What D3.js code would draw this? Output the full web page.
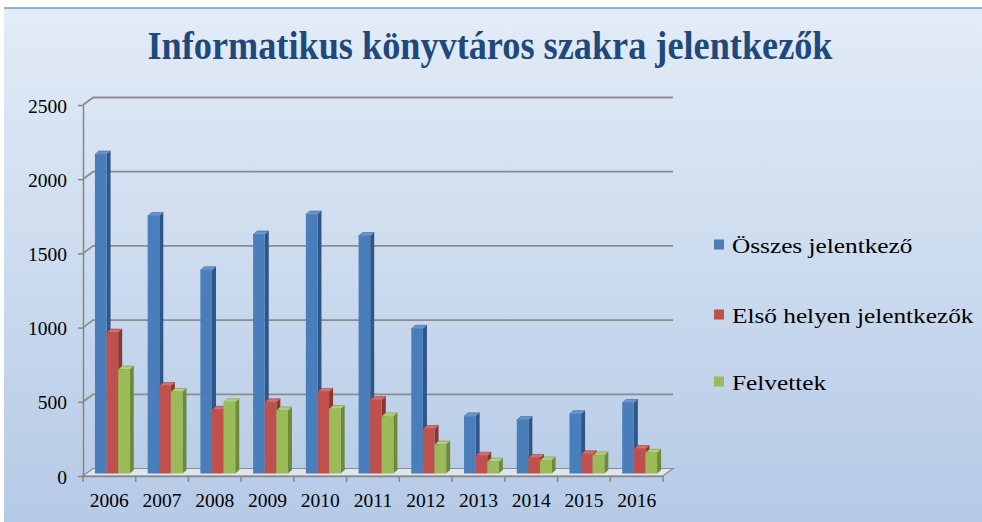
<!DOCTYPE html>
<html>
<head>
<meta charset="utf-8">
<script src="https://cdn.jsdelivr.net/npm/d3@7"></script>
<style>
  body { margin: 0; background: #fff; }
</style>
</head>
<body>
<svg id="chart" width="982" height="522"></svg>
<script>
// chart data
var years = ["2006", "2007", "2008", "2009", "2010", "2011", "2012", "2013", "2014", "2015", "2016"];
var osszes = [2150, 1735, 1370, 1610, 1745, 1600, 975, 385, 360, 400, 475];
var elso = [950, 590, 430, 480, 550, 495, 300, 120, 105, 130, 165];
var felvettek = [700, 550, 480, 425, 435, 385, 195, 80, 88, 122, 140];
var seriesNames = ["Összes jelentkező", "Első helyen jelentkezők", "Felvettek"];
var yTicks = [0, 500, 1000, 1500, 2000, 2500];
var titleText = "Informatikus könyvtáros szakra jelentkezők";

var serif = "'Liberation Serif', 'Times New Roman', serif";
var svg = d3.select("#chart");

// colours: front, side, top
var colors = [
  {front: "#4a7ebb", side: "#2e5688", top: "#6a96cf"},
  {front: "#c0504d", side: "#8e3532", top: "#d46e6b"},
  {front: "#9bbb59", side: "#6e8a39", top: "#b3cf77"}
];

// background gradient
var defs = svg.append("defs");
var bg = defs.append("linearGradient").attr("id", "bg").attr("x1", 0).attr("y1", 0).attr("x2", 0).attr("y2", 1);
bg.append("stop").attr("offset", "0%").attr("stop-color", "#e3ecf7");
bg.append("stop").attr("offset", "100%").attr("stop-color", "#b5cae6");

svg.append("rect").attr("x", 4).attr("y", 8).attr("width", 978).attr("height", 514).attr("fill", "url(#bg)");
svg.append("line").attr("x1", 4).attr("x2", 982).attr("y1", 8).attr("y2", 8)
  .attr("stroke", "#6f98cc").attr("stroke-width", 1.5);

// title
svg.append("text")
  .attr("x", 490).attr("y", 59)
  .attr("text-anchor", "middle")
  .attr("font-family", serif)
  .attr("font-size", 40).attr("font-weight", "bold")
  .attr("fill", "#1f497d")
  .attr("textLength", 685).attr("lengthAdjust", "spacingAndGlyphs")
  .text(titleText);

// 3d offsets: back wall, bar front plane, bar depth
var back = {dx: 10, dy: -7.5};
var barOff = {dx: 3, dy: -2.5};
var barDepth = {dx: 4, dy: -3.5};

var x = d3.scaleBand().domain(years).range([83, 663]).paddingInner(0).paddingOuter(0);
var inner = d3.scaleBand().domain([0, 1, 2]).range([0, x.bandwidth()]).paddingInner(0).paddingOuter(0.77);
var y = d3.scaleLinear().domain([0, 2500]).range([476, 105]);

var x0 = x.range()[0], x1 = x.range()[1];

// floor
svg.append("path")
  .attr("d", "M" + x0 + "," + y(0) + "L" + x1 + "," + y(0) +
    "L" + (x1 + back.dx) + "," + (y(0) + back.dy) + "L" + (x0 + back.dx) + "," + (y(0) + back.dy) + "Z")
  .attr("fill", "#dfe6ef").attr("stroke", "#8c8c8c").attr("stroke-width", 1.2);

// gridlines on left wall and back wall
svg.append("g").selectAll("path")
  .data(yTicks.filter(function(d) { return d > 0; }))
  .enter().append("path")
  .attr("fill", "none")
  .attr("stroke", "#8c8c8c")
  .attr("stroke-width", 1.8)
  .attr("d", function(d) {
    return "M" + x0 + "," + y(d) + "L" + (x0 + back.dx) + "," + (y(d) + back.dy) +
      "L" + (x1 + back.dx) + "," + (y(d) + back.dy);
  });

// left axis
var yAxis = svg.append("g")
  .attr("transform", "translate(" + x0 + ",0)")
  .call(d3.axisLeft(y).tickValues(yTicks).tickFormat(d3.format("d"))
    .tickSize(5).tickSizeOuter(0).tickPadding(11));
yAxis.attr("font-family", serif);
yAxis.select(".domain").attr("stroke", "#868686").attr("stroke-width", 1.5);
yAxis.selectAll(".tick line").attr("stroke", "#868686").attr("stroke-width", 1.5);
yAxis.selectAll("text").attr("font-size", 19.5).attr("fill", "#000").attr("dy", "0.36em");

// bottom axis (labels), tick marks at category boundaries
var xAxis = svg.append("g")
  .attr("transform", "translate(0," + y(0) + ")")
  .call(d3.axisBottom(x).tickSize(0).tickSizeOuter(0).tickPadding(17));
xAxis.attr("font-family", serif);
xAxis.select(".domain").attr("stroke", "#868686").attr("stroke-width", 1.5);
xAxis.selectAll("text").attr("font-size", 19.5).attr("fill", "#000");

svg.append("g").selectAll("line")
  .data(years.map(function(d) { return x(d); }).concat([x1]))
  .enter().append("line")
  .attr("x1", function(d) { return d; }).attr("x2", function(d) { return d; })
  .attr("y1", y(0)).attr("y2", y(0) + 6)
  .attr("stroke", "#868686").attr("stroke-width", 1.5);

// bars
var seriesVals = [osszes, elso, felvettek];
var bars = svg.append("g");
years.forEach(function(yr, i) {
  seriesVals.forEach(function(vals, s) {
    var bx = x(yr) + inner(s) + barOff.dx;
    var w = inner.bandwidth();
    var top = y(vals[i]) + barOff.dy;
    var bot = y(0) + barOff.dy;
    var c = colors[s];
    // side face
    bars.append("path")
      .attr("d", "M" + (bx + w) + "," + bot + "L" + (bx + w) + "," + top +
        "L" + (bx + w + barDepth.dx) + "," + (top + barDepth.dy) +
        "L" + (bx + w + barDepth.dx) + "," + (bot + barDepth.dy) + "Z")
      .attr("fill", c.side);
    // top face
    bars.append("path")
      .attr("d", "M" + bx + "," + top + "L" + (bx + w) + "," + top +
        "L" + (bx + w + barDepth.dx) + "," + (top + barDepth.dy) +
        "L" + (bx + barDepth.dx) + "," + (top + barDepth.dy) + "Z")
      .attr("fill", c.top).attr("stroke", c.side).attr("stroke-width", 0.5);
    // front face
    bars.append("rect")
      .attr("x", bx).attr("y", top)
      .attr("width", w).attr("height", bot - top)
      .attr("fill", c.front);
  });
});

// legend
var legend = svg.append("g").selectAll("g")
  .data(seriesNames)
  .enter().append("g")
  .attr("transform", function(d, i) { return "translate(714," + [245, 315, 382][i] + ")"; });
legend.append("rect")
  .attr("x", 0).attr("y", -5.5).attr("width", 10).attr("height", 10)
  .attr("fill", function(d, i) { return colors[i].front; });
legend.append("text")
  .attr("transform", "translate(18,7.5) scale(1.15,1)")
  .attr("font-family", serif)
  .attr("font-size", 22).attr("fill", "#000")
  .text(function(d) { return d; });
</script>
</body>
</html>
